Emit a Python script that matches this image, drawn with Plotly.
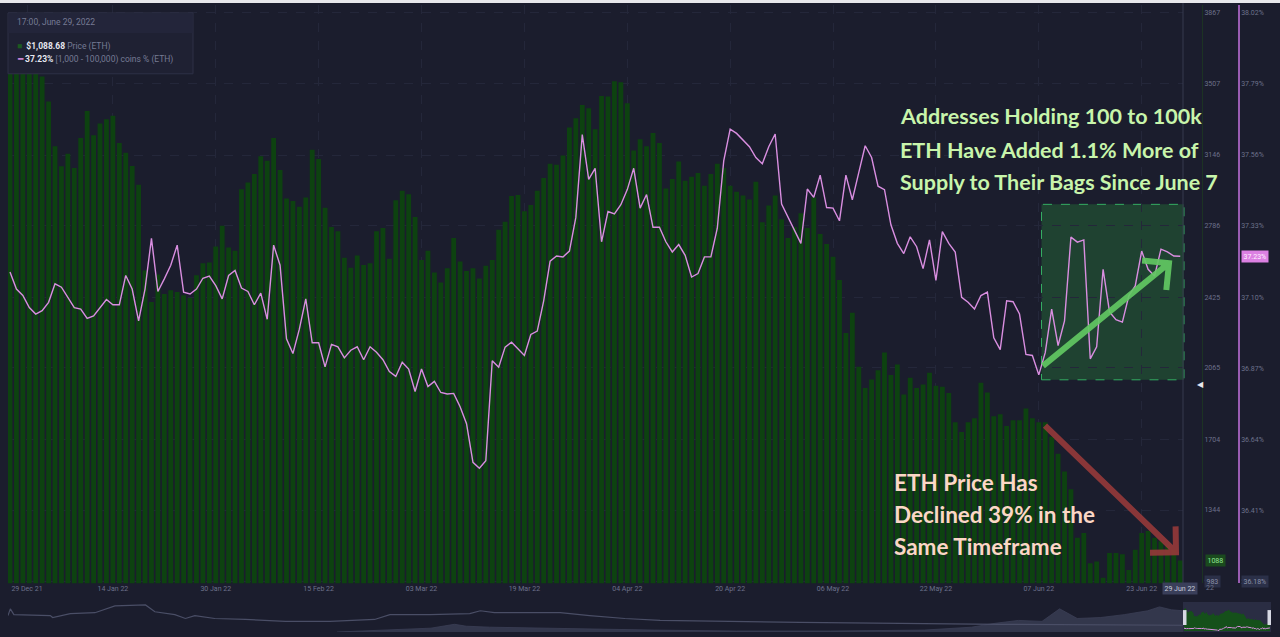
import math
import pandas as pd
import plotly.graph_objects as go

W, H = 1280, 637

# daily values, 29 Dec 2021 .. 29 Jun 2022
dates = pd.date_range("2021-12-29", "2022-06-29", freq="D")

price_eth = [
    3630, 3710, 3680, 3770, 3830, 3545, 3418, 3190, 3089, 3152,
    3080, 3232, 3369, 3246, 3306, 3327, 3345, 3207, 3157, 3090,
    2995, 2560, 2400, 2540, 2440, 2460, 2451, 2434, 2420, 2536,
    2596, 2600, 2682, 2787, 2677, 2660, 2972, 3007, 3049, 3140,
    3117, 3232, 3070, 2925, 2913, 2884, 2930, 3173, 3126, 2878,
    2781, 2759, 2625, 2574, 2636, 2588, 2596, 2759, 2776, 2619,
    2916, 2964, 2947, 2831, 2613, 2660, 2550, 2499, 2571, 2725,
    2605, 2557, 2571, 2519, 2584, 2613, 2767, 2807, 2938, 2943,
    2861, 2892, 2964, 3029, 3101, 3097, 3144, 3286, 3332, 3400,
    3383, 3277, 3446, 3443, 3520, 3515, 3409, 3169, 3226, 3190,
    3258, 3207, 2976, 3024, 3113, 3015, 3036, 3055, 2990, 3050,
    3101, 3080, 2990, 2960, 2940, 2920, 3010, 2805, 2890, 2940,
    2820, 2725, 2780, 2850, 2776, 2930, 2745, 2694, 2630, 2511,
    2242, 2345, 2071, 1963, 2007, 2054, 2143, 2030, 2083, 1930,
    2015, 1964, 1981, 2041, 1975, 1970, 1938, 1790, 1740, 1790,
    1810, 1990, 1940, 1820, 1830, 1770, 1800, 1800, 1860, 1810,
    1790, 1790, 1716, 1630, 1540, 1450, 1203, 1228, 1074, 1083,
    1000, 1126, 1126, 1120, 1040, 1143, 1228, 1237, 1203, 1186,
    1169, 1143, 1088,
]

# supply share of 1,000 - 100,000 coin addresses, %
share_pct = [
    37.181, 37.126, 37.105, 37.066, 37.045, 37.056, 37.083, 37.143, 37.132, 37.099,
    37.066, 37.061, 37.031, 37.039, 37.066, 37.092, 37.075, 37.075, 37.170, 37.126,
    37.023, 37.126, 37.290, 37.118, 37.159, 37.203, 37.268, 37.116, 37.110, 37.126,
    37.161, 37.168, 37.137, 37.094, 37.170, 37.186, 37.129, 37.118, 37.075, 37.113,
    37.028, 37.268, 37.203, 36.965, 36.917, 36.996, 37.094, 36.952, 36.952, 36.874,
    36.947, 36.939, 36.903, 36.928, 36.939, 36.897, 36.939, 36.921, 36.897, 36.859,
    36.843, 36.889, 36.867, 36.794, 36.867, 36.810, 36.827, 36.791, 36.786, 36.788,
    36.745, 36.690, 36.565, 36.546, 36.570, 36.894, 36.873, 36.938, 36.954, 36.932,
    36.911, 36.979, 36.990, 37.088, 37.216, 37.233, 37.230, 37.249, 37.358, 37.626,
    37.481, 37.517, 37.279, 37.377, 37.369, 37.399, 37.448, 37.517, 37.388, 37.432,
    37.326, 37.326, 37.279, 37.246, 37.270, 37.235, 37.165, 37.176, 37.230, 37.230,
    37.323, 37.541, 37.644, 37.630, 37.608, 37.587, 37.552, 37.532, 37.587, 37.628,
    37.401, 37.358, 37.312, 37.274, 37.450, 37.423, 37.495, 37.390, 37.388, 37.347,
    37.495, 37.415, 37.503, 37.590, 37.552, 37.459, 37.448, 37.334, 37.274, 37.241,
    37.295, 37.263, 37.192, 37.285, 37.154, 37.312, 37.274, 37.246, 37.099, 37.083,
    37.061, 37.105, 37.116, 36.968, 36.930, 37.088, 37.085, 37.045, 36.914, 36.911,
    36.848, 36.920, 37.061, 36.943, 37.023, 37.294, 37.278, 37.285, 36.900, 36.939,
    37.190, 37.052, 37.027, 37.019, 37.104, 37.136, 37.249, 37.190, 37.168, 37.255,
    37.246, 37.233, 37.232,
]

price_ticks = [983, 1344, 1704, 2065, 2425, 2786, 3146, 3507, 3867]
pct_ticks = [36.18, 36.41, 36.64, 36.87, 37.10, 37.33, 37.56, 37.79, 38.02]

date_ticks = ["2021-12-29", "2022-01-14", "2022-01-30", "2022-02-15", "2022-03-03",
              "2022-03-19", "2022-04-04", "2022-04-20", "2022-05-06", "2022-05-22",
              "2022-06-07", "2022-06-23"]
date_tick_text = ["29 Dec 21", "14 Jan 22", "30 Jan 22", "15 Feb 22", "03 Mar 22",
                  "19 Mar 22", "04 Apr 22", "20 Apr 22", "06 May 22", "22 May 22",
                  "07 Jun 22", "23 Jun 22"]

# navigator strip (long history, share of the strip width / height in px)
nav_t = [0.0, 0.002, 0.005, 0.036, 0.038, 0.053, 0.074, 0.091, 0.117, 0.125,
         0.142, 0.151, 0.159, 0.176, 0.202, 0.236, 0.274, 0.312, 0.325, 0.359,
         0.393, 0.402, 0.414, 0.470, 0.495, 0.525, 0.555, 0.606, 0.674, 0.759,
         0.844, 1.0]
nav_level = [17, 24, 18, 17, 15, 19, 20, 27, 28, 21,
             18, 14, 17, 14, 13, 11, 11, 13, 18, 18,
             19, 22, 20, 20, 17, 14, 12, 11, 10, 9,
             8, 7]
nav_vol_t = [0.28, 0.32, 0.36, 0.38, 0.39, 0.41, 0.45, 0.50, 0.55, 0.62, 0.70,
             0.78, 0.82, 0.84, 0.86, 0.88, 0.895, 0.91, 0.93, 0.95, 0.97, 0.98,
             0.99, 1.0]
nav_vol = [0, 2, 4, 8, 6, 5, 4, 3, 2, 1, 1,
           2, 5, 9, 12, 11, 24, 14, 15, 18, 22, 26,
           23, 22]

green_lines = ["Addresses Holding 100 to 100k", "ETH Have Added 1.1% More of",
               "Supply to Their Bags Since June 7"]
red_lines = ["ETH Price Has", "Declined 39% in the", "Same Timeframe"]

BG = "#1b1d2d"
GRID = "#24273a"
TICK = "#6c718b"
PINK = "#d98ee0"
BAR = "#0d4210"


def px(x):
    return x / W


def py(y):
    return 1 - y / H


def arrow_path(x0, y0, x1, y1, head):
    # straight shaft with an open chevron head, pixel coords in, paper out
    L = math.hypot(x1 - x0, y1 - y0)
    bx, by = (x0 - x1) / L, (y0 - y1) / L
    c = s = math.sqrt(0.5)
    a1 = (x1 + head * (bx * c - by * s), y1 + head * (bx * s + by * c))
    a2 = (x1 + head * (bx * c + by * s), y1 + head * (-bx * s + by * c))
    return (f"M {px(x0)},{py(y0)} L {px(x1)},{py(y1)} "
            f"M {px(a1[0])},{py(a1[1])} L {px(x1)},{py(y1)} L {px(a2[0])},{py(a2[1])}")


# pixel geometry of the main panel
top_px, bot_px = 5, 585
tick_top_px, tick_bot_px = 13, 583
k_price = (price_ticks[-1] - price_ticks[0]) / (tick_bot_px - tick_top_px)
k_pct = (pct_ticks[-1] - pct_ticks[0]) / (tick_bot_px - tick_top_px)
price_range = [price_ticks[0] - (bot_px - tick_bot_px) * k_price,
               price_ticks[-1] + (tick_top_px - top_px) * k_price]
pct_range = [pct_ticks[0] - (bot_px - tick_bot_px) * k_pct,
             pct_ticks[-1] + (tick_top_px - top_px) * k_pct]

day_px = 6.43
x_start = dates[0] - pd.Timedelta(days=(10 - 8) / day_px)
x_end = dates[0] + pd.Timedelta(days=(1183 - 10) / day_px)

tick_pos = pd.to_datetime(date_ticks)
# the app keeps the first label inside the frame
tick_pos = tick_pos.insert(0, tick_pos[0] + pd.Timedelta(days=17 / day_px)).delete(1)

fig = go.Figure()

fig.add_trace(go.Bar(x=dates, y=price_eth, marker=dict(color=BAR, line=dict(width=0)),
                     xaxis="x", yaxis="y", name="Price (ETH)"))
fig.add_trace(go.Scatter(x=dates, y=share_pct, mode="lines",
                         line=dict(color=PINK, width=1.4),
                         xaxis="x", yaxis="y2", name="[1,000 - 100,000) coins % (ETH)"))

# navigator
fig.add_trace(go.Scatter(x=nav_vol_t, y=nav_vol, mode="lines", fill="tozeroy",
                         line=dict(color="#3b3f55", width=0.8), fillcolor="#33374c",
                         xaxis="x3", yaxis="y3"))
fig.add_trace(go.Scatter(x=nav_t, y=nav_level, mode="lines",
                         line=dict(color="#4a4e66", width=1.2),
                         xaxis="x3", yaxis="y3"))
fig.add_trace(go.Scatter(x=dates, y=price_eth, mode="lines", fill="tozeroy",
                         line=dict(width=0, color="#17561c"), fillcolor="#15501a",
                         xaxis="x4", yaxis="y4"))
fig.add_trace(go.Scatter(x=dates, y=share_pct, mode="lines",
                         line=dict(color=PINK, width=1),
                         xaxis="x4", yaxis="y5"))

axis_font = dict(family="Roboto, sans-serif", size=7, color=TICK)

fig.update_layout(
    width=W, height=H,
    margin=dict(l=0, r=0, t=0, b=0),
    paper_bgcolor=BG, plot_bgcolor=BG,
    showlegend=False, hovermode=False, bargap=0.25,
    font=dict(family="Roboto, sans-serif", color=TICK),
    xaxis=dict(domain=[px(8), px(1183)], range=[x_start, x_end], type="date",
               tickvals=tick_pos, ticktext=date_tick_text, tickfont=axis_font,
               showgrid=True, gridcolor=GRID, griddash="dash", gridwidth=1,
               zeroline=False, showline=False, ticks=""),
    yaxis=dict(domain=[py(bot_px), py(top_px)], range=price_range,
               anchor="free", position=px(1202), side="right",
               tickvals=price_ticks, ticktext=[str(v) for v in price_ticks],
               tickfont=axis_font, showgrid=True, gridcolor=GRID, griddash="dash",
               zeroline=False, showline=True, linecolor="#1c3323", linewidth=1, ticks=""),
    yaxis2=dict(range=pct_range, overlaying="y", anchor="free", position=px(1239),
                side="right", tickvals=pct_ticks,
                ticktext=[f"{v:.2f}%" for v in pct_ticks], tickfont=axis_font,
                showgrid=False, zeroline=False, showline=True,
                linecolor="#9a5cb2", linewidth=1.5, ticks=""),
    xaxis3=dict(domain=[px(8), px(1183)], range=[0, 1], anchor="y3", visible=False),
    yaxis3=dict(domain=[py(634), py(603)], range=[0, 32], anchor="x3", visible=False),
    xaxis4=dict(domain=[px(1184), px(1270)], range=[dates[0], dates[-1]],
                anchor="y4", visible=False),
    yaxis4=dict(domain=[py(633), py(604)], range=[0, 4800], anchor="x4", visible=False),
    yaxis5=dict(range=[36.45, 44], overlaying="y4", anchor="x4", visible=False),
)

shapes = [
    # white strip along the top of the screenshot
    dict(type="rect", xref="paper", yref="paper", x0=0, x1=1, y0=py(3), y1=1,
         fillcolor="#e8e8ec", line=dict(width=0), layer="above"),
    # right edge of the chart area
    dict(type="line", xref="paper", yref="paper", x0=px(1183), x1=px(1183),
         y0=py(585), y1=py(3), line=dict(color="#363a4f", width=1)),
    # tooltip / legend box
    dict(type="rect", xref="paper", yref="paper", x0=px(8), x1=px(193),
         y0=py(74), y1=py(13), fillcolor="#1f2133",
         line=dict(color="#2e3146", width=1), layer="above"),
    dict(type="rect", xref="paper", yref="paper", x0=px(8.5), x1=px(192.5),
         y0=py(33), y1=py(13.5), fillcolor="#23253a", line=dict(width=0), layer="above"),
    # highlighted accumulation window
    dict(type="rect", xref="paper", yref="paper", x0=px(1041.5), x1=px(1184),
         y0=py(381), y1=py(205), fillcolor="rgba(40,145,60,0.32)",
         line=dict(color="#34ad62", width=1, dash="dash"), layer="below"),
    dict(type="path", xref="paper", yref="paper",
         path=arrow_path(1043, 367, 1169, 264, 27),
         line=dict(color="rgba(98,200,98,0.92)", width=6), layer="above"),
    dict(type="path", xref="paper", yref="paper",
         path=arrow_path(1045, 427, 1176, 554, 26),
         line=dict(color="rgba(150,58,58,0.9)", width=6), layer="above"),
    # navigator window and handles
    dict(type="rect", xref="paper", yref="paper", x0=px(1183), x1=px(1271),
         y0=py(634), y1=py(604), fillcolor="rgba(72,78,108,0.35)",
         line=dict(width=0), layer="below"),
    dict(type="rect", xref="paper", yref="paper", x0=px(1183), x1=px(1186.5),
         y0=py(627), y1=py(612), fillcolor="#d7d9e4", line=dict(width=0), layer="above"),
    dict(type="rect", xref="paper", yref="paper", x0=px(1267.5), x1=px(1271),
         y0=py(627), y1=py(612), fillcolor="#d7d9e4", line=dict(width=0), layer="above"),
]
fig.update_layout(shapes=shapes)

ann = []
big_font = "Lato, 'Open Sans', sans-serif"
for line, y in zip(green_lines, [116, 150, 183]):
    ann.append(dict(text=f"<b>{line}</b>", xref="paper", yref="paper", x=px(898), y=py(y),
                    xanchor="left", yanchor="middle", showarrow=False,
                    font=dict(family=big_font, size=21.5, color="#c8f5ab")))
for line, y in zip(red_lines, [484, 516, 548]):
    ann.append(dict(text=f"<b>{line}</b>", xref="paper", yref="paper", x=px(892), y=py(y),
                    xanchor="left", yanchor="middle", showarrow=False,
                    font=dict(family=big_font, size=22.5, color="#fbd7c6")))

small = dict(family="Roboto, sans-serif", size=8.5)
ann += [
    dict(text="17:00, June 29, 2022", xref="paper", yref="paper", x=px(15), y=py(22.5),
         xanchor="left", yanchor="middle", showarrow=False,
         font=dict(small, color="#767b94")),
    dict(text="<span style='color:#1b5a20'>■</span>  <b>$1,088.68</b>"
              " <span style='color:#767b94'>Price (ETH)</span>",
         xref="paper", yref="paper", x=px(15), y=py(47),
         xanchor="left", yanchor="middle", showarrow=False,
         font=dict(small, color="#e6e8f0")),
    dict(text=f"<span style='color:{PINK}'>━</span> <b>37.23%</b>"
              " <span style='color:#767b94'>[1,000 - 100,000) coins % (ETH)</span>",
         xref="paper", yref="paper", x=px(15), y=py(60),
         xanchor="left", yanchor="middle", showarrow=False,
         font=dict(small, color="#e6e8f0")),
    # value flags on the axes
    dict(text="1088", xref="paper", yref="y", x=px(1205), y=price_eth[-1],
         xanchor="left", yanchor="middle", showarrow=False, bgcolor="#1a4a1e",
         borderpad=1.5, font=dict(family="Roboto, sans-serif", size=7, color="#93e693")),
    dict(text="983", xref="paper", yref="y", x=px(1204), y=price_ticks[0],
         xanchor="left", yanchor="middle", showarrow=False, bgcolor="#2b3048",
         borderpad=1.5, font=dict(family="Roboto, sans-serif", size=7, color="#8c91a8")),
    dict(text="36.18%", xref="paper", yref="y2", x=px(1241), y=pct_ticks[0],
         xanchor="left", yanchor="middle", showarrow=False, bgcolor="#2b3048",
         borderpad=1.5, font=dict(family="Roboto, sans-serif", size=7, color="#8c91a8")),
    dict(text="37.23%", xref="paper", yref="y2", x=px(1241), y=share_pct[-1],
         xanchor="left", yanchor="middle", showarrow=False, bgcolor="#dc80e2",
         borderpad=1.5, font=dict(family="Roboto, sans-serif", size=7, color="#fff0ff")),
    dict(text="29 Jun 22", xref="x", yref="paper", x=dates[-1], y=py(590),
         xanchor="center", yanchor="middle", showarrow=False, bgcolor="#3a3f5a",
         borderpad=1.5, font=dict(family="Roboto, sans-serif", size=7, color="#c9ccdc")),
    dict(text="22", xref="paper", yref="paper", x=px(1204), y=py(590),
         xanchor="left", yanchor="middle", showarrow=False,
         font=dict(family="Roboto, sans-serif", size=7, color=TICK)),
    dict(text="◀", xref="paper", yref="paper", x=px(1200), y=py(386),
         xanchor="center", yanchor="middle", showarrow=False,
         font=dict(family="DejaVu Sans, sans-serif", size=8, color="#e8e8ee")),
]
fig.update_layout(annotations=ann)

# page body margin would push the 1280x637 figure off the window
fig.write_html("out.html", config=dict(displayModeBar=False),
               post_script="document.body.style.margin='0';")
